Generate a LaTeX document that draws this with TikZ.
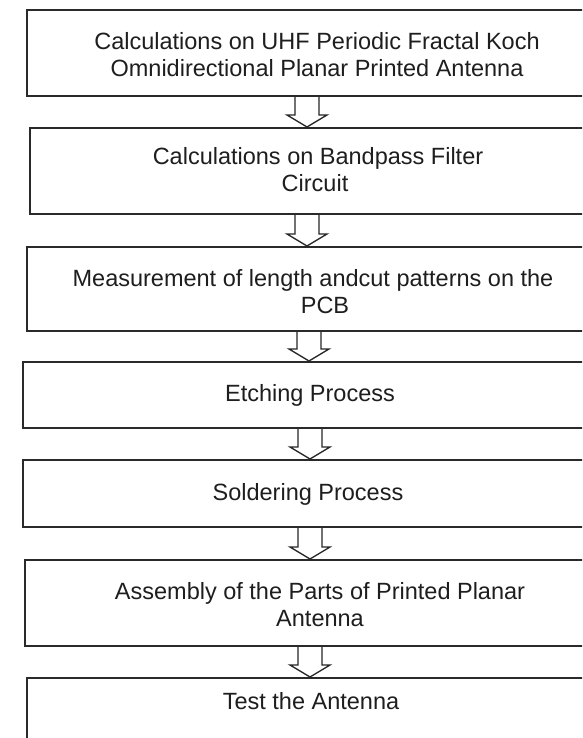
\documentclass[tikz,border=0pt]{standalone}
\usepackage{fontspec}
\setmainfont{Liberation Sans}
\usetikzlibrary{calc}
\definecolor{boxgray}{HTML}{2A2A2A}
\definecolor{arrgray}{HTML}{262626}
\definecolor{txtgray}{HTML}{1E1E1E}
% #1 = x position of the arrow, #2 = upper box, #3 = lower box
\newcommand\blockarrow[3]{%
  \draw[flow] let \p1=(#2.south), \p2=(#3.north) in
    (#1pt-12pt,\y1) -- (#1pt-12pt,\y2+12pt) -- (#1pt-20pt,\y2+12pt) -- (#1pt,\y2)
    -- (#1pt+20pt,\y2+12pt) -- (#1pt+12pt,\y2+12pt) -- (#1pt+12pt,\y1);}
\begin{document}
\begin{tikzpicture}[x=1pt,y=-1pt,
  box/.style={draw=boxgray, line width=2pt, rectangle, anchor=north west, inner sep=0pt},
  boxtext/.style={inner sep=0pt, align=center,
    font=\fontsize{23.5}{27}\selectfont, text=txtgray},
  flow/.style={draw=arrgray, line width=1.3pt, line join=miter}]
\useasboundingbox (0,0) rectangle (582,738);
\clip (0,0) rectangle (582,738);
\fill[white] (0,0) rectangle (582,738);
% boxes (right edges run past the picture, as in the reference)
\node[box, minimum width=600pt, minimum height=86pt] (b1) at (26,9) {};
\node[box, minimum width=600pt, minimum height=86pt] (b2) at (29,127) {};
\node[box, minimum width=600pt, minimum height=84pt] (b3) at (26,246) {};
\node[box, minimum width=600pt, minimum height=66pt] (b4) at (22,361) {};
\node[box, minimum width=600pt, minimum height=67pt] (b5) at (22,459) {};
\node[box, minimum width=600pt, minimum height=86pt] (b6) at (24,559) {};
\node[box, minimum width=600pt, minimum height=123pt] (b7) at (26,677) {};
% texts
\node[boxtext] (t1) at (317,55)
  {Calculations on UHF Periodic Fractal Koch\\Omnidirectional Planar Printed Antenna};
\node[boxtext] (t2) at (318,170)
  {Calculations on Bandpass Filter\\Circuit\hspace*{6pt}};
\node[boxtext] (t3) at (313,292)
  {Measurement of length andcut patterns on the\\\hspace*{24pt}PCB};
\node[boxtext] (t4) at (310,395) {Etching Process};
\node[boxtext] (t5) at (308,494) {Soldering Process};
\node[boxtext] (t6) at (320,605)
  {Assembly of the Parts of Printed Planar\\Antenna};
\node[boxtext] (t7) at (311,701) {Test the Antenna};
% block arrows
\blockarrow{307}{b1}{b2}
\blockarrow{307}{b2}{b3}
\blockarrow{309}{b3}{b4}
\blockarrow{310}{b4}{b5}
\blockarrow{310}{b5}{b6}
\blockarrow{310}{b6}{b7}
\end{tikzpicture}
\end{document}
